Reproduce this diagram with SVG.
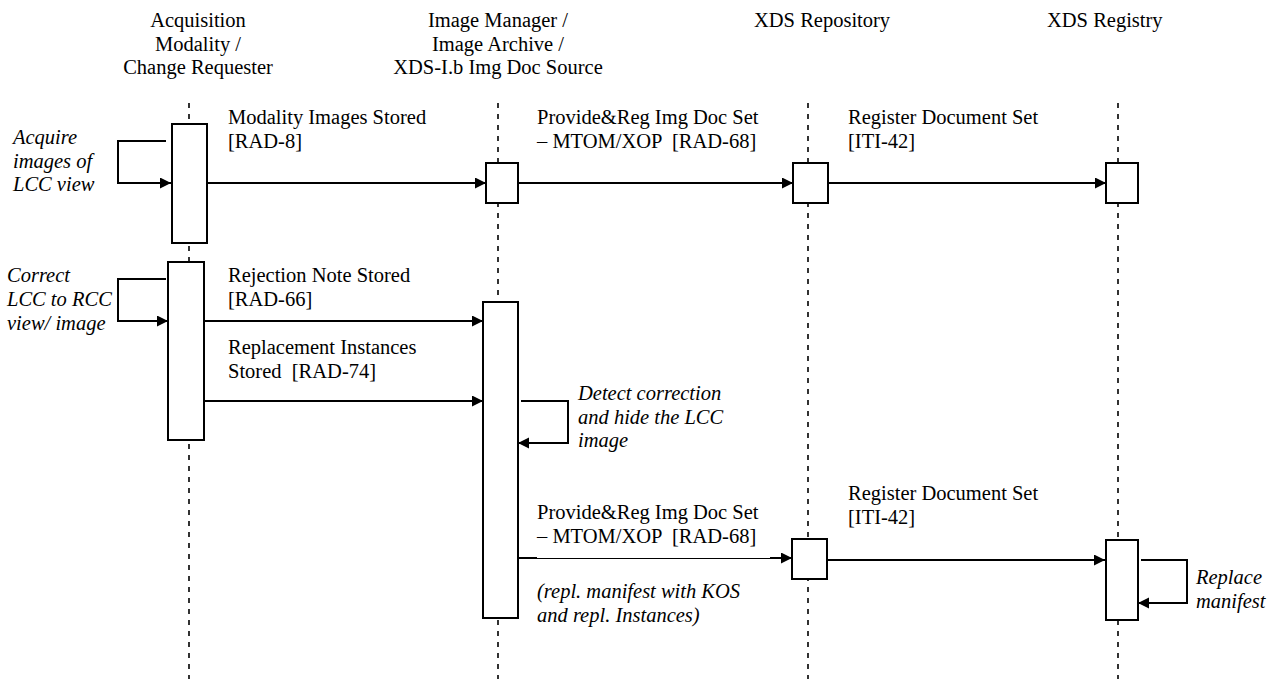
<svg xmlns="http://www.w3.org/2000/svg" width="1283" height="679" viewBox="0 0 1283 679" font-family="'Liberation Serif', 'Times New Roman', Times, 'DejaVu Serif', serif">
<defs>
<style>
text{font-family:'Liberation Serif','Times New Roman',Times,'DejaVu Serif',serif;font-size:20.5px;fill:#000;white-space:pre}
.it{font-style:italic}
.mid{text-anchor:middle}
.life{stroke:#000;stroke-width:1.6;stroke-dasharray:5 6;fill:none}
.box{fill:#fff;stroke:#000;stroke-width:2}
.msg{fill:none;stroke:#000;stroke-width:2;marker-end:url(#arr)}
</style>
<marker id="arr" markerUnits="userSpaceOnUse" markerWidth="12" markerHeight="12" refX="11" refY="5.5" orient="auto">
<path d="M0,0 L11,5.5 L0,11 z" fill="#000"/>
</marker>
</defs>
<rect width="1283" height="679" fill="#fff"/>
<g id="lifelines">
<line class="life" x1="189" y1="103" x2="189" y2="679"/>
<line class="life" x1="498" y1="103" x2="498" y2="679"/>
<line class="life" x1="808" y1="103" x2="808" y2="679"/>
<line class="life" x1="1118" y1="103" x2="1118" y2="679"/>
</g>
<g id="acquisition">
<text class="mid" x="198" y="27">Acquisition</text>
<text class="mid" x="198" y="50.5">Modality /</text>
<text class="mid" x="198" y="74">Change Requester</text>
<rect class="box" x="172" y="124" width="35" height="119"/>
<rect class="box" x="168" y="262" width="36" height="178"/>
</g>
<g id="image-manager">
<text class="mid" x="498" y="27">Image Manager /</text>
<text class="mid" x="498" y="50.5">Image Archive /</text>
<text class="mid" x="498" y="74">XDS-I.b Img Doc Source</text>
<rect class="box" x="486" y="163" width="32" height="40"/>
<rect class="box" x="483" y="302" width="35" height="316"/>
</g>
<g id="xds-repository">
<text x="754" y="27">XDS Repository</text>
<rect class="box" x="793" y="163" width="35" height="40"/>
<rect class="box" x="792" y="539" width="35" height="40"/>
</g>
<g id="xds-registry">
<text x="1047" y="27">XDS Registry</text>
<rect class="box" x="1106" y="163" width="32" height="40"/>
<rect class="box" x="1106" y="540" width="32" height="80"/>
</g>
<g id="connectors">
<path class="msg" d="M166,141 H118 V183 H171"/>
<path class="msg" d="M207,183 H486"/>
<path class="msg" d="M518,183 H793"/>
<path class="msg" d="M828,183 H1106"/>
<path class="msg" d="M166,279 H118 V321 H168"/>
<path class="msg" d="M204,321 H483"/>
<path class="msg" d="M204,401 H483"/>
<path class="msg" d="M521,401 H568 V443 H518"/>
<path d="M518,558 H537" stroke="#000" stroke-width="2" fill="none"/>
<path d="M536,558.5 H771" stroke="#000" stroke-width="1.2" fill="none"/>
<path class="msg" d="M770,558 H792"/>
<path class="msg" d="M827,560 H1105"/>
<path class="msg" d="M1141,560 H1187 V603 H1138"/>
</g>
<g id="labels">
<text x="228" y="124">Modality Images Stored</text>
<text x="228" y="148">[RAD-8]</text>
<text x="537" y="124">Provide&amp;Reg Img Doc Set</text>
<text x="537" y="148">– MTOM/XOP  [RAD-68]</text>
<text x="848" y="124">Register Document Set</text>
<text x="848" y="148">[ITI-42]</text>
<text class="it" x="13" y="144">Acquire</text>
<text class="it" x="13" y="167.5">images of</text>
<text class="it" x="13" y="191">LCC view</text>
<text class="it" x="7" y="282">Correct</text>
<text class="it" x="7" y="306">LCC to RCC</text>
<text class="it" x="7" y="330">view/ image</text>
<text x="228" y="282">Rejection Note Stored</text>
<text x="228" y="306">[RAD-66]</text>
<text x="228" y="354">Replacement Instances</text>
<text x="228" y="378">Stored  [RAD-74]</text>
<text class="it" x="578" y="400">Detect correction</text>
<text class="it" x="578" y="424">and hide the LCC</text>
<text class="it" x="578" y="447">image</text>
<text x="537" y="519">Provide&amp;Reg Img Doc Set</text>
<text x="537" y="543">– MTOM/XOP  [RAD-68]</text>
<text class="it" x="537" y="598">(repl. manifest with KOS</text>
<text class="it" x="537" y="622">and repl. Instances)</text>
<text x="848" y="500">Register Document Set</text>
<text x="848" y="524">[ITI-42]</text>
<text class="it" x="1196" y="584">Replace</text>
<text class="it" x="1196" y="608">manifest</text>
</g>
</svg>
